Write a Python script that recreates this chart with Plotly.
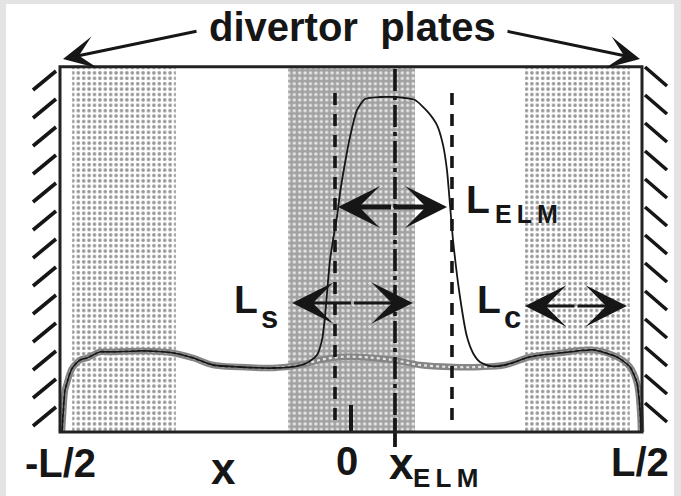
import numpy as np
import plotly.graph_objects as go

# ---- canvas geometry (pixels) -------------------------------------------
W, H = 681, 496
X0_PX, X_SCALE = 351.0, 582.0   # pixel of x = 0, pixels per unit L
Y0_PX, Y_SCALE = 432.0, 335.0   # pixel of the baseline, pixels per unit density


def X(px):
    return (px - X0_PX) / X_SCALE


def Y(py):
    return (Y0_PX - py) / Y_SCALE


# ---- data (x in units of L, density normalised to the ELM peak) ---------
half_L = 0.5
box_top = 1.09
x_elm = 0.0756            # ELM position
x_dash_left = -0.0275     # dashed markers either side of the ELM
x_dash_right = 0.1735

# stippled zones along the field line
core_band = [-0.108, 0.110]
side_bands = [[-0.479, -0.301], [0.299, 0.479]]

# background (inter-ELM) density profile
bg_x = [-0.4966, -0.4948, -0.4914, -0.488, -0.4828, -0.4777, -0.4656, -0.4536,
        -0.4313, -0.4141, -0.3574, -0.3058, -0.2715, -0.2371, -0.1907, -0.134,
        -0.0876, -0.0533, -0.0189, 0.0155, 0.0722, 0.1186, 0.1753, 0.2216,
        0.2646, 0.3076, 0.3591, 0.4158, 0.457, 0.4794, 0.4914, 0.4966, 0.4983]
bg_n = [0.0, 0.051, 0.125, 0.146, 0.176, 0.194, 0.215, 0.221,
        0.239, 0.239, 0.242, 0.236, 0.221, 0.200, 0.194, 0.191,
        0.200, 0.215, 0.224, 0.224, 0.215, 0.200, 0.194, 0.194,
        0.200, 0.224, 0.236, 0.245, 0.224, 0.194, 0.146, 0.066, 0.0]

# ELM density pulse
elm_x = [-0.0928, -0.0756, -0.0584, -0.0498, -0.0447, -0.0412, -0.0361, -0.0309,
         -0.0241, -0.0189, -0.0103, -0.0017, 0.0103, 0.0241, 0.0498, 0.0756,
         0.0928, 0.110, 0.1323, 0.1478, 0.1581, 0.1649, 0.1701, 0.1753,
         0.1873, 0.1993, 0.2096, 0.2216, 0.2388]
elm_n = [0.197, 0.206, 0.230, 0.275, 0.343, 0.415, 0.513, 0.573,
         0.642, 0.713, 0.803, 0.881, 0.961, 0.994, 1.0, 1.0,
         0.997, 0.991, 0.955, 0.916, 0.857, 0.782, 0.678, 0.573,
         0.403, 0.284, 0.236, 0.209, 0.197]

# characteristic lengths drawn as double arrows: (x0, x1, y)
L_elm = (-0.0223, 0.165, 0.672)
L_s = (-0.101, 0.106, 0.385)
L_c = (0.299, 0.474, 0.376)

INK = "#161616"
FONT = "Liberation Sans, Arial, sans-serif"

fig = go.Figure()

# stippled zones
for (x0, x1), bg, fg, sol in [(side_bands[0], "#ffffff", "#979797", 0.34),
                              (side_bands[1], "#ffffff", "#979797", 0.34),
                              (core_band, "#a2a2a2", "#e6e6e6", 0.30)]:
    fig.add_trace(go.Scatter(
        x=[x0, x1, x1, x0, x0], y=[0, 0, box_top, box_top, 0],
        mode="lines", fill="toself", line=dict(width=0),
        fillcolor=bg,
        fillpattern=dict(shape=".", bgcolor=bg, fgcolor=fg, size=5.4,
                         solidity=sol, fillmode="replace"),
        hoverinfo="skip", showlegend=False))

# background profile: beaded grey band with a thin black line
fig.add_trace(go.Scatter(x=bg_x, y=bg_n, mode="lines",
                         line=dict(color="#858585", width=6.5, shape="spline"),
                         hoverinfo="skip", showlegend=False))
fig.add_trace(go.Scatter(x=bg_x, y=bg_n, mode="lines",
                         line=dict(color="#e6e6e6", width=2.2, dash="dot", shape="spline"),
                         hoverinfo="skip", showlegend=False))

bgx = np.array(bg_x)
bgn = np.array(bg_n)
left = bgx < elm_x[0]
right = bgx > elm_x[-1]
black_x = np.concatenate([bgx[left], elm_x, bgx[right]])
black_n = np.concatenate([bgn[left], elm_n, bgn[right]])
fig.add_trace(go.Scatter(x=black_x, y=black_n, mode="lines",
                         line=dict(color=INK, width=1.8, shape="spline", smoothing=0.6),
                         hoverinfo="skip", showlegend=False))

shapes = []
# white page inside a light grey frame
shapes.append(dict(type="rect", layer="below", x0=X(6), x1=X(674), y0=Y(H), y1=Y(4),
                   fillcolor="white", line=dict(width=0)))

# dashed markers and the dash-dot ELM line
for xv in (x_dash_left, x_dash_right):
    shapes.append(dict(type="line", x0=xv, x1=xv, y0=Y(420), y1=Y(88),
                       line=dict(color=INK, width=3.6, dash="12px,9px")))
shapes.append(dict(type="line", x0=x_elm, x1=x_elm, y0=Y(415), y1=box_top,
                   line=dict(color=INK, width=3.6, dash="22px,5px,4px,5px")))
shapes.append(dict(type="line", x0=x_elm, x1=x_elm, y0=Y(447), y1=Y(418),
                   line=dict(color=INK, width=3.8)))
# tick at x = 0
shapes.append(dict(type="line", x0=0, x1=0, y0=0, y1=Y(405),
                   line=dict(color=INK, width=4)))

# simulation box
shapes.append(dict(type="rect", x0=-half_L, x1=half_L, y0=0, y1=box_top,
                   line=dict(color="#222222", width=3)))

# hatched divertor plates
for k in range(-1, 13):
    yb = 90 + 28 * k          # left plate: lines rising to the right
    x_a, y_a, x_b, y_b = 33.0, yb, 56.0, yb - 19.0
    if y_b < 67:
        t = (y_a - 67) / (y_a - y_b)
        x_b, y_b = x_a + t * (x_b - x_a), 67
    if y_a > 432:
        continue
    if y_a > 67:
        shapes.append(dict(type="line", x0=X(x_a), x1=X(x_b), y0=Y(y_a), y1=Y(y_b),
                           line=dict(color=INK, width=3.6)))
for k in range(0, 14):
    yt = 67 + 28 * k          # right plate: lines falling to the right
    x_a, y_a, x_b, y_b = 645.0, yt, 667.0, yt + 19.0
    if y_a > 430:
        continue
    if y_b > 432:
        t = (432 - y_a) / (y_b - y_a)
        x_b, y_b = x_a + t * (x_b - x_a), 432
    shapes.append(dict(type="line", x0=X(x_a), x1=X(x_b), y0=Y(y_a), y1=Y(y_b),
                       line=dict(color=INK, width=3.6)))

fig.update_layout(shapes=shapes)


def arrow(x_tip, y_tip, x_tail, y_tail, width, size):
    fig.add_annotation(x=x_tip, y=y_tip, ax=x_tail, ay=y_tail,
                       xref="x", yref="y", axref="x", ayref="y",
                       text="", showarrow=True, arrowhead=3, arrowsize=size,
                       arrowwidth=width, arrowcolor=INK, standoff=0)


def double_arrow(span, width, size):
    x0, x1, yv = span
    xm = 0.5 * (x0 + x1)
    arrow(x0, yv, xm, yv, width, size)
    arrow(x1, yv, xm, yv, width, size)


double_arrow(L_elm, 5, 1.4)
double_arrow(L_s, 3, 2.3)
double_arrow(L_c, 3, 2.3)

# arrows from the title to the plates
arrow(X(63), Y(59), X(198), Y(31), 3, 1.8)
arrow(X(640), Y(59), X(506), Y(31), 3, 1.8)


def label(text, px, py, size):
    fig.add_annotation(x=X(px), y=Y(py), xref="x", yref="y", text="<b>%s</b>" % text,
                       showarrow=False, xanchor="center", yanchor="middle",
                       font=dict(family=FONT, size=size, color=INK))


label("divertor  plates", 352, 27, 40)
label("L", 478, 199, 39)
label("E\u2009L\u2009M", 526, 214, 25)
label("L", 246, 299, 39)
label("s", 269, 317, 31)
label("L", 489, 299, 39)
label("c", 512, 317, 31)
label("-L/2", 60, 463, 40)
label("x", 223, 468, 44)
label("0", 347, 461, 40)
label("x", 401, 463, 44)
label("E\u2009L\u2009M", 445, 478, 26)
label("L/2", 640, 462, 40)

fig.update_layout(
    width=W, height=H,
    margin=dict(l=0, r=0, t=0, b=0),
    paper_bgcolor="#e3e3e3", plot_bgcolor="#e3e3e3",
    xaxis=dict(range=[X(0), X(W)], visible=False, fixedrange=True),
    yaxis=dict(range=[Y(H), Y(0)], visible=False, fixedrange=True),
    showlegend=False,
)

fig.write_html("out.html")
